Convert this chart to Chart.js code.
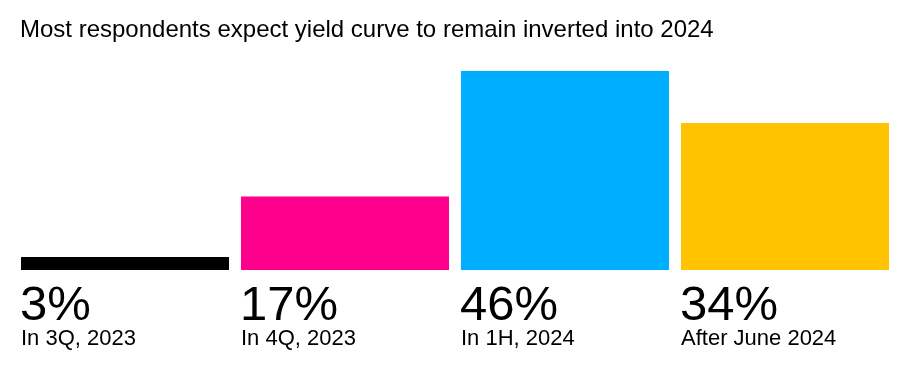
<!DOCTYPE html>
<html>
<head>
<meta charset="utf-8">
<script src="https://cdn.jsdelivr.net/npm/chart.js@4/dist/chart.umd.min.js"></script>
<style>
  body { margin: 0; background: #fff; }
  #wrap { width: 905px; height: 366px; }
</style>
</head>
<body>
<div id="wrap"><canvas id="yield_chart" width="905" height="366"></canvas></div>
<script>
var chartTitle = "Most respondents expect yield curve to remain inverted into 2024";
var categories = ["In 3Q, 2023", "In 4Q, 2023", "In 1H, 2024", "After June 2024"];
var shares = [3, 17, 46, 34];
var barColors = ["#000000", "#ff008c", "#00aeff", "#ffc300"];

// draws the title plus the big percentage and category under each bar
var labelPlugin = {
    id: 'labelPlugin',
    afterDraw: function(chart) {
        var ctx = chart.ctx;
        ctx.save();
        ctx.fillStyle = "#000";
        ctx.textAlign = "left";
        ctx.textBaseline = "alphabetic";
        ctx.font = "24px 'Liberation Sans', Arial, sans-serif";
        ctx.fillText(chartTitle, 20, 37);

        var meta = chart.getDatasetMeta(0);
        meta.data.forEach(function(bar, i) {
            var left = bar.x - bar.width / 2;
            ctx.font = "49px 'Liberation Sans', Arial, sans-serif";
            ctx.fillText(shares[i] + "%", left - 1, 320);
            ctx.font = "22px 'Liberation Sans', Arial, sans-serif";
            ctx.fillText(categories[i], left, 345);
        });
        ctx.restore();
    }
};

var ctx = document.getElementById("yield_chart").getContext("2d");
var myChart = new Chart(ctx, {
    type: 'bar',
    data: {
        labels: categories,
        datasets: [{
            data: shares,
            backgroundColor: barColors,
            borderWidth: 0,
            categoryPercentage: 1,
            barPercentage: 208 / 220
        }]
    },
    options: {
        responsive: false,
        animation: false,
        layout: { padding: { left: 15, right: 10, top: 71, bottom: 96 } },
        scales: {
            x: { display: false },
            y: { display: false, min: 0, max: 46 }
        },
        plugins: {
            legend: { display: false },
            tooltip: { enabled: false }
        }
    },
    plugins: [labelPlugin]
});
</script>
</body>
</html>
